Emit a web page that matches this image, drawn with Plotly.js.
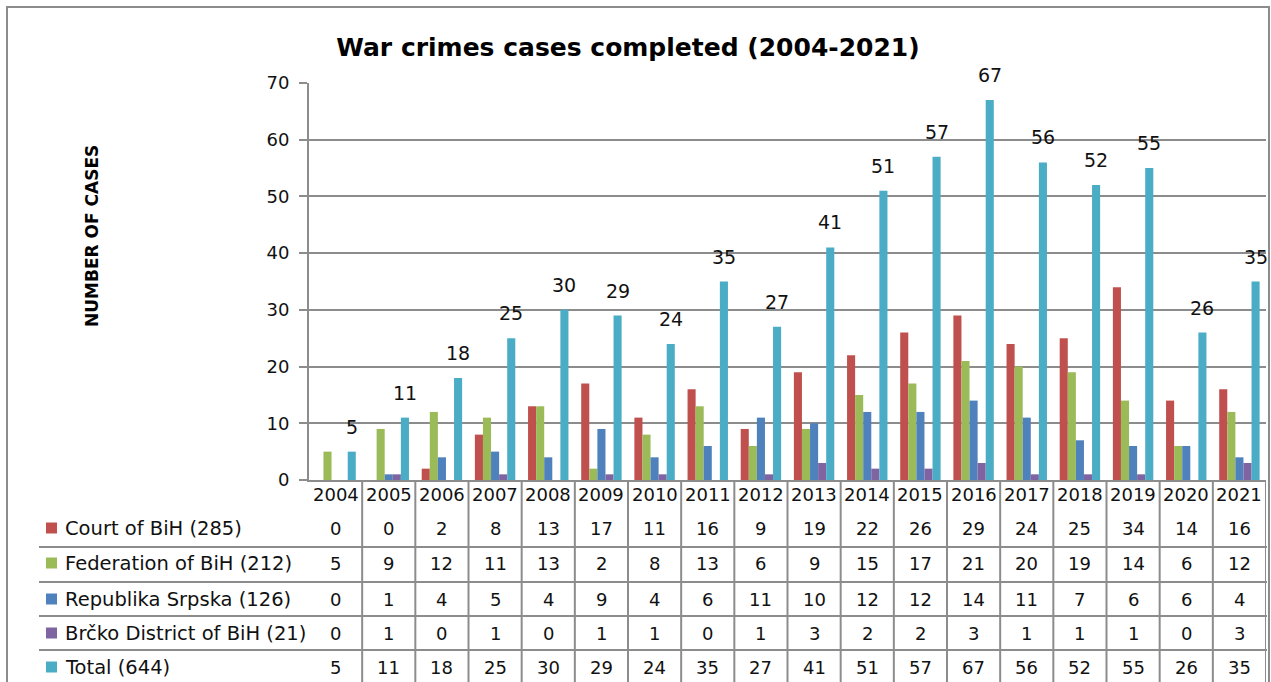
<!DOCTYPE html>
<html>
<head>
<meta charset="utf-8">
<script src="https://cdn.plot.ly/plotly-3.0.1.min.js"></script>
<style>
  html, body { margin: 0; padding: 0; background: #ffffff; }
  #chart { width: 1271px; height: 682px; }
</style>
</head>
<body>
<div id="chart"></div>
<script>
// ---- Data ----
const years = ['2004','2005','2006','2007','2008','2009','2010','2011','2012','2013','2014','2015','2016','2017','2018','2019','2020','2021'];
const seriesNames = ['Court of BiH (285)', 'Federation of BiH (212)', 'Republika Srpska (126)', 'Brčko District of BiH (21)', 'Total (644)'];
const courtBiH   = [0, 0, 2, 8, 13, 17, 11, 16, 9, 19, 22, 26, 29, 24, 25, 34, 14, 16];
const federation = [5, 9, 12, 11, 13, 2, 8, 13, 6, 9, 15, 17, 21, 20, 19, 14, 6, 12];
const republika  = [0, 1, 4, 5, 4, 9, 4, 6, 11, 10, 12, 12, 14, 11, 7, 6, 6, 4];
const brcko      = [0, 1, 0, 1, 0, 1, 1, 0, 1, 3, 2, 2, 3, 1, 1, 1, 0, 3];
const total      = [5, 11, 18, 25, 30, 29, 24, 35, 27, 41, 51, 57, 67, 56, 52, 55, 26, 35];
const yTicks = [0, 10, 20, 30, 40, 50, 60, 70];

// ---- Style ----
const colors = ['#c0504d', '#9bbb59', '#4f81bd', '#8064a2', '#4bacc6'];
const FONT = 'DejaVu Sans, sans-serif';
const W = 1271, H = 682;
const M = { l: 309, r: 5, t: 83, b: 202 };
const PW = W - M.l - M.r, PH = H - M.t - M.b;
const BARGAP = 0.24;
const px2x = px => (px - M.l) / PW;
const px2y = py => (H - M.b - py) / PH;
const gridCol = '#8c8c8c';

const allSeries = [courtBiH, federation, republika, brcko, total];

const traces = allSeries.map((vals, k) => ({
  type: 'bar',
  name: seriesNames[k],
  x: years,
  y: vals,
  marker: { color: colors[k] },
  hoverinfo: 'x+y+name'
}));

const shapes = [];
const annotations = [];

// total labels above total bars (category axis: x given as category index)
const catW = PW / years.length;
const barW = (1 - BARGAP) * catW / 5;
total.forEach((v, i) => {
  annotations.push({
    x: i, y: v, xref: 'x', yref: 'y',
    text: String(v), showarrow: false,
    xshift: 2 * barW, yshift: 25, xanchor: 'center', yanchor: 'middle',
    font: { family: FONT, size: 19, color: '#111' }
  });
});

// data table
const rowCenters = [528, 563, 599, 633, 667];
const rowLines = [547, 582, 616, 650];
const tableBottom = 690;
allSeries.forEach((vals, k) => {
  vals.forEach((v, i) => {
    annotations.push({
      x: i, y: px2y(rowCenters[k]), xref: 'x', yref: 'paper',
      text: String(v), showarrow: false, xanchor: 'center', yanchor: 'middle',
      font: { family: FONT, size: 18, color: '#111' }
    });
  });
  annotations.push({
    x: px2x(63), y: px2y(rowCenters[k]), xref: 'paper', yref: 'paper',
    text: seriesNames[k], showarrow: false, xanchor: 'left', yanchor: 'middle',
    font: { family: FONT, size: 19.5, color: '#111' }
  });
  shapes.push({
    type: 'rect', xref: 'paper', yref: 'paper',
    x0: px2x(46), x1: px2x(57),
    y0: px2y(rowCenters[k] - 5.5), y1: px2y(rowCenters[k] + 5.5),
    fillcolor: colors[k], line: { width: 0 }
  });
});
// year header labels
years.forEach((yr, i) => {
  annotations.push({
    x: i, y: px2y(494), xref: 'x', yref: 'paper',
    text: yr, showarrow: false, xanchor: 'center', yanchor: 'middle',
    font: { family: FONT, size: 18, color: '#111' }
  });
});
// horizontal table lines
rowLines.forEach(py => {
  shapes.push({
    type: 'line', xref: 'paper', yref: 'paper',
    x0: px2x(39), x1: px2x(1267), y0: px2y(py), y1: px2y(py),
    line: { color: gridCol, width: 2 }
  });
});
// vertical table lines at category boundaries
for (let i = 0; i < years.length; i++) {
  shapes.push({
    type: 'line', xref: 'x', yref: 'paper',
    x0: i + 0.5, x1: i + 0.5,
    y0: 0, y1: px2y(tableBottom),
    line: { color: gridCol, width: 2 }
  });
}
// outer border
shapes.push({
  type: 'rect', xref: 'paper', yref: 'paper',
  x0: px2x(7), x1: px2x(1269), y0: px2y(7), y1: px2y(700),
  line: { color: '#8c8c8c', width: 2 }, fillcolor: 'rgba(0,0,0,0)'
});

// y axis title
annotations.push({
  x: px2x(92), y: px2y(236), xref: 'paper', yref: 'paper',
  text: '<b>NUMBER OF CASES</b>', showarrow: false, textangle: -90,
  xanchor: 'center', yanchor: 'middle',
  font: { family: FONT, size: 17, color: '#000' }
});

const layout = {
  width: W, height: H,
  margin: M,
  paper_bgcolor: '#ffffff', plot_bgcolor: '#ffffff',
  font: { family: FONT, size: 18, color: '#111' },
  title: {
    text: '<b>War crimes cases completed (2004-2021)</b>',
    x: 628 / W, xref: 'container', xanchor: 'center',
    y: 1 - 47 / H, yref: 'container', yanchor: 'middle',
    font: { family: FONT, size: 25, color: '#000' }
  },
  showlegend: false,
  barmode: 'group',
  bargap: BARGAP,
  bargroupgap: 0,
  xaxis: {
    type: 'category',
    range: [-0.5, years.length - 0.5],
    autorange: false,
    showticklabels: false,
    showline: true, linecolor: gridCol, linewidth: 2,
    ticks: '', showgrid: false, zeroline: false
  },
  yaxis: {
    range: [0, 70],
    autorange: false,
    tickvals: yTicks,
    ticktext: yTicks.map(String),
    showgrid: true, gridcolor: gridCol, gridwidth: 2,
    showline: true, linecolor: gridCol, linewidth: 2,
    ticks: 'outside', ticklen: 8, tickcolor: gridCol, tickwidth: 2,
    ticklabelstandoff: 6,
    zeroline: false,
    tickfont: { family: FONT, size: 18, color: '#111' }
  },
  shapes: shapes,
  annotations: annotations
};

Plotly.newPlot('chart', traces, layout, { displayModeBar: false, responsive: false });
</script>
</body>
</html>
